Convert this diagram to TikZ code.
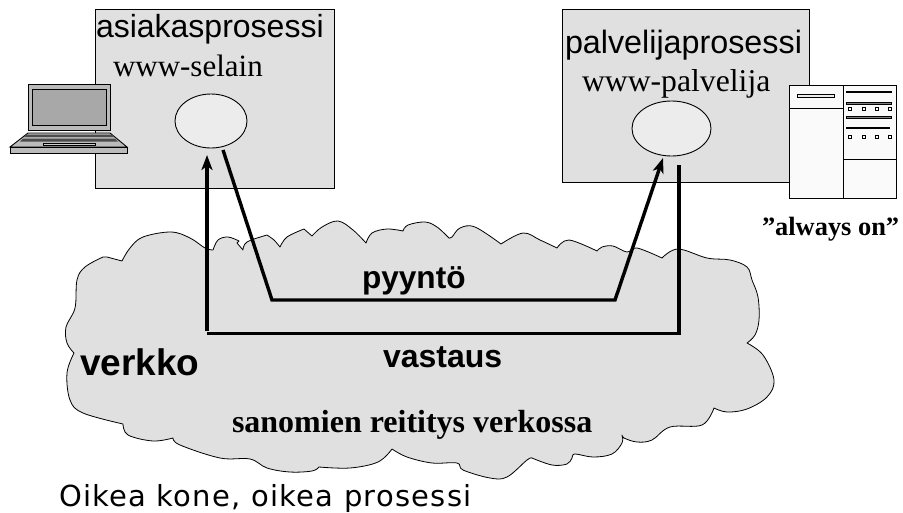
\documentclass[tikz,border=0pt]{standalone}
\usepackage{fontspec}
\setmainfont{Liberation Serif}
\setsansfont{Liberation Sans}
\newfontfamily\oikeafont[LetterSpace=4.4]{DejaVu Sans}
\usetikzlibrary{arrows.meta,shapes.geometric}
\definecolor{boxgray}{HTML}{E0E0E0}
\definecolor{ellgray}{HTML}{ECECEC}
\definecolor{lapgray}{HTML}{BBBBBB}
\tikzset{
 x=1pt,y=-1pt,
 procbox/.style={draw=black,fill=boxgray,line width=0.9pt,inner sep=0pt,anchor=north west},
 procell/.style={draw=black,fill=ellgray,line width=0.9pt,ellipse,inner sep=0pt},
 cloudline/.style={draw=black,fill=boxgray,line width=0.8pt,line join=round},
 link/.style={draw=black,line width=3.4pt,line join=miter},
 tip/.style={-{Stealth[length=15pt,width=11pt,inset=4pt]}},
 lab/.style={anchor=base west,inner sep=0pt,outer sep=0pt},
 devline/.style={draw=black,line width=0.9pt},
 sq/.style={draw=black,line width=0.8pt,fill=white},
}
\begin{document}
\begin{tikzpicture}
\useasboundingbox (0,0) rectangle (903,512);
% cloud
\path[cloudline] (122,261)
 -- plot[smooth,tension=0.6] coordinates {(122,261) (130,248) (143,237) (171,232) (190,238) (205,248) (213,250)}
 -- plot[smooth,tension=0.6] coordinates {(213,250) (218,240) (228,237) (239,241)}
 -- (237,243) -- (243,250)
 -- plot[smooth,tension=0.6] coordinates {(243,250) (247,242) (267,235)}
 -- plot[smooth,tension=0.5] coordinates {(267,235) (274,240) (280,247)}
 -- plot[smooth,tension=0.6] coordinates {(280,247) (287,237) (304,229)}
 -- (312,236)
 -- plot[smooth,tension=0.6] coordinates {(312,236) (322,227) (338,221) (353,230) (366,243)}
 -- plot[smooth,tension=0.6] coordinates {(366,243) (372,233) (387,229) (403,231)}
 -- plot[smooth,tension=0.6] coordinates {(403,231) (408,225) (425,222) (437,227) (449,238)}
 -- plot[smooth,tension=0.6] coordinates {(449,238) (452,237) (460,228) (475,227) (501,244)}
 -- plot[smooth,tension=0.6] coordinates {(501,244) (523,233) (540,240) (557,248)}
 -- plot[smooth,tension=0.6] coordinates {(557,248) (569,240) (597,251)}
 -- plot[smooth,tension=0.6] coordinates {(597,251) (602,247) (613,246) (627,252) (637,248) (662,258)}
 -- plot[smooth,tension=0.6] coordinates {(662,258) (678,249) (707,258) (730,260) (747,267) (752,280) (758,297) (759,320) (755,335) (747,343)}
 -- plot[smooth,tension=0.6] coordinates {(747,343) (763,355) (774,380) (767,397) (747,409) (727,412) (714,408)}
 -- plot[smooth,tension=0.6] coordinates {(714,408) (702,425) (670,427) (652,440) (637,442) (624,438) (622,435)}
 -- plot[smooth,tension=0.6] coordinates {(622,435) (622,443) (612,454) (593,457) (575,454) (572,458) (567,464) (552,465) (532,458)}
 -- plot[smooth,tension=0.6] coordinates {(532,458) (527,460) (507,477) (490,478) (463,470) (457,463) (432,463) (407,457) (392,449)}
 -- plot[smooth,tension=0.6] coordinates {(392,449) (378,462) (350,468) (319,467)}
 -- plot[smooth,tension=0.6] coordinates {(319,467) (312,471) (290,472) (267,468) (250,459) (220,458) (180,445) (173,438)}
 -- plot[smooth,tension=0.6] coordinates {(173,438) (153,441) (128,435) (123,424)}
 -- plot[smooth,tension=0.6] coordinates {(123,424) (83,413) (70,400) (67,373) (74,353)}
 -- plot[smooth,tension=0.6] coordinates {(74,353) (67,343) (66,327) (75,308) (77,280) (85,267) (103,257)}
 -- (107,257) -- cycle;
% process boxes
\node[procbox,minimum width=239pt,minimum height=179pt] (asiakas) at (95,9) {};
\node[procbox,minimum width=247pt,minimum height=173pt] (palvelija) at (562,9) {};
\node[procell,minimum width=72pt,minimum height=54pt] (selainell) at (211,121) {};
\node[procell,minimum width=79pt,minimum height=55pt] (palvell) at (671.5,128.5) {};
\coordinate (reqstart) at (223,150);
\coordinate (reqa) at (272,300);
\coordinate (reqb) at (615,300);
\coordinate (reqend) at (663,158);
\coordinate (respstart) at (679,165);
\coordinate (respa) at (679,333.5);
\coordinate (respb) at (207,333.5);
\coordinate (respc) at (207,331);
\coordinate (respend) at (207,155);
\draw[link,tip] (reqstart) -- (reqa) -- (reqb) -- (reqend);
\draw[link] (respstart) -- (respa) -- (respb);
\draw[link,tip] (respc) -- (respend);
% laptop
\draw[devline,fill=lapgray] (28,84) rectangle (110,130);
\draw[devline,fill=lapgray!90!black] (32,89) rectangle (106,125);
\draw[devline,fill=lapgray] (28,133) -- (110,133) -- (127,147) -- (10,147) -- cycle;
\draw[devline,fill=lapgray] (10,147) rectangle (127,153);
\fill[black!70] (26,134.5) -- (112,134.5) -- (114,137) -- (24,137) -- cycle;
\fill[black!70] (23,138.5) -- (115,138.5) -- (118,141.5) -- (20,141.5) -- cycle;
\draw[devline,fill=lapgray!70] (43,143) rectangle (95,145);
% server
\draw[devline,fill=white!98!black] (789,85) rectangle (896,198);
\draw[devline] (843,85) -- (843,198);
\draw[devline] (789,108) -- (843,108);
\draw[devline] (843,159) -- (896,159);
\draw[devline,fill=ellgray] (797,94) rectangle (834,97);
\draw[line width=2pt] (846,92) -- (892,92);
\draw[devline,fill=gray] (846,102) rectangle (891,104);
\draw[devline,fill=gray] (846,116) rectangle (891,118);
\draw[line width=2pt] (846,128) -- (890,128);
\foreach \sx in {848,862,875,888}{
 \draw[sq] (\sx,107.5) rectangle ++(3,3);
 \draw[sq] (\sx,135.5) rectangle ++(3,3);
}
% labels
\node[lab,font=\sffamily\fontsize{32}{32}\selectfont] (t1) at (96,37) {asiakasprosessi};
\node[lab,font=\fontsize{31}{31}\selectfont] (t2) at (113,76) {www-selain};
\node[lab,font=\sffamily\fontsize{32.3}{32}\selectfont] (t3) at (565,53) {palvelijaprosessi};
\node[lab,font=\fontsize{31.7}{32}\selectfont] (t4) at (582,91) {www-palvelija};
\node[lab,font=\bfseries\fontsize{26.4}{26}\selectfont] (t5) at (762,235) {”always on”};
\node[lab,font=\sffamily\bfseries\fontsize{31.6}{32}\selectfont] (t6) at (362,288) {pyyntö};
\node[lab,font=\sffamily\bfseries\fontsize{32}{32}\selectfont] (t7) at (383,367) {vastaus};
\node[lab,font=\sffamily\bfseries\fontsize{37}{37}\selectfont] (t8) at (80,375) {verkko};
\node[lab,font=\bfseries\fontsize{32}{32}\selectfont] (t9) at (232,432) {sanomien reititys verkossa};
\node[lab,font=\oikeafont\fontsize{29}{29}\selectfont] (t10) at (59,506) {Oikea kone, oikea prosessi};
\end{tikzpicture}
\end{document}
